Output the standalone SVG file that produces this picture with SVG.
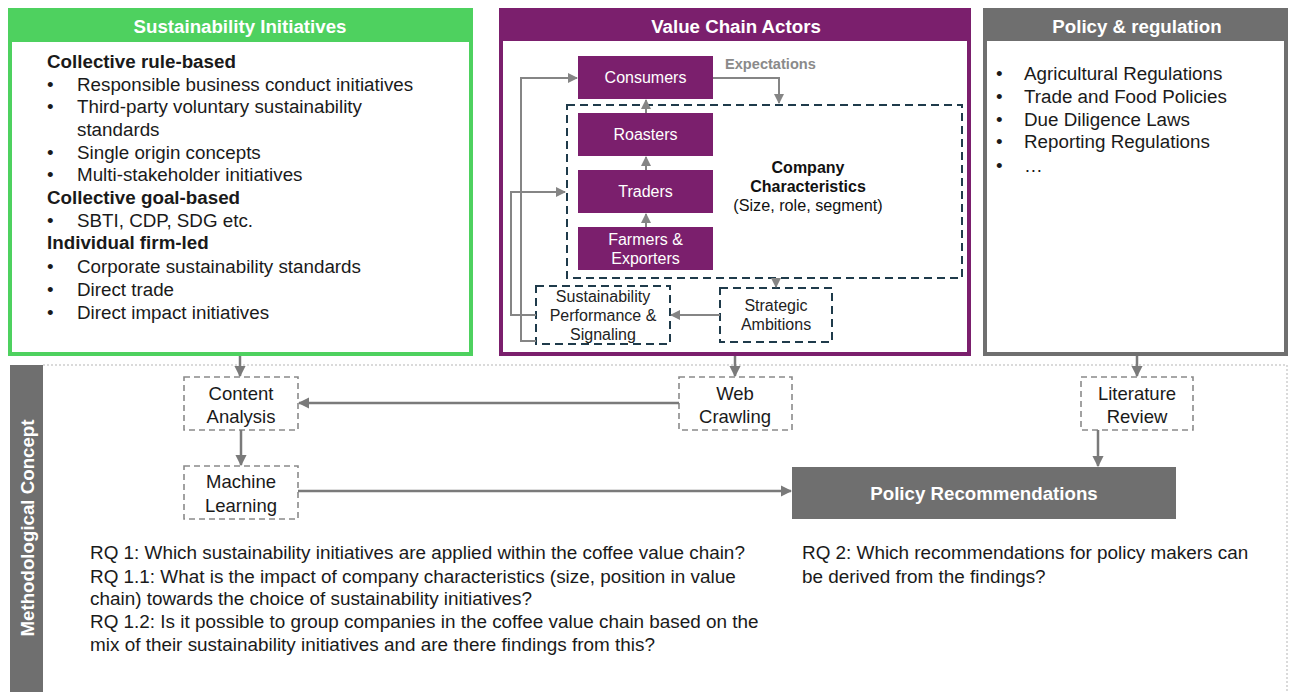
<svg xmlns="http://www.w3.org/2000/svg" width="1289" height="692" viewBox="0 0 1289 692">
<defs>
<style>
text{font-family:"Liberation Sans",Arial,sans-serif;}
.hdr{font-size:18.7px;font-weight:bold;fill:#fff;text-anchor:middle;}
.body{font-size:18.8px;fill:#1a1a1a;}
.bold{font-weight:bold;}
.chain{fill:#7b1f6d;}
.ctext{font-size:16px;fill:#fff;text-anchor:middle;}
.dk{fill:none;stroke:#1f3b4b;stroke-width:2;stroke-dasharray:8 5;}
.gd{fill:#fff;stroke:#8a8a8a;stroke-width:1.6;stroke-dasharray:6 4;}
.mid{text-anchor:middle;}
.con{fill:none;stroke:#7a7a7a;stroke-width:2.5;}
.con2{fill:none;stroke:#858585;stroke-width:2;}
.rq{font-size:18.9px;fill:#1a1a1a;}
.bx{font-size:18.5px;fill:#1a1a1a;text-anchor:middle;}
.sm{font-size:16px;fill:#222;text-anchor:middle;}
</style>
<marker id="ah" viewBox="0 0 10 10" refX="9" refY="5" markerWidth="4.5" markerHeight="4.5" orient="auto" markerUnits="strokeWidth">
<path d="M0,0 L10,5 L0,10 z" fill="#7a7a7a"/>
</marker>
<marker id="ah2" viewBox="0 0 10 10" refX="9" refY="5" markerWidth="5" markerHeight="5" orient="auto" markerUnits="strokeWidth">
<path d="M0,0 L10,5 L0,10 z" fill="#858585"/>
</marker>
</defs>
<rect width="1289" height="692" fill="#fff"/>

<g id="sustainability-initiatives">
<rect x="10" y="10" width="461" height="344" fill="#fff" stroke="#4ed15f" stroke-width="4"/>
<rect x="8" y="8" width="465" height="34" fill="#4ed15f"/>
<text class="hdr" x="240" y="33">Sustainability Initiatives</text>
<text class="body bold" x="47" y="68">Collective rule-based</text>
<text class="body" x="47" y="91">•</text><text class="body" x="77" y="91">Responsible business conduct initiatives</text>
<text class="body" x="47" y="113">•</text><text class="body" x="77" y="113">Third-party voluntary sustainability</text>
<text class="body" x="77" y="136">standards</text>
<text class="body" x="47" y="159">•</text><text class="body" x="77" y="159">Single origin concepts</text>
<text class="body" x="47" y="181">•</text><text class="body" x="77" y="181">Multi-stakeholder initiatives</text>
<text class="body bold" x="47" y="204">Collective goal-based</text>
<text class="body" x="47" y="227">•</text><text class="body" x="77" y="227">SBTI, CDP, SDG etc.</text>
<text class="body bold" x="47" y="249">Individual firm-led</text>
<text class="body" x="47" y="273">•</text><text class="body" x="77" y="273">Corporate sustainability standards</text>
<text class="body" x="47" y="296">•</text><text class="body" x="77" y="296">Direct trade</text>
<text class="body" x="47" y="319">•</text><text class="body" x="77" y="319">Direct impact initiatives</text>
</g>

<g id="value-chain-actors">
<rect x="501" y="10" width="468" height="344" fill="#fff" stroke="#7b1f6d" stroke-width="4"/>
<rect x="499" y="8" width="472" height="33" fill="#7b1f6d"/>
<text class="hdr" x="736" y="33">Value Chain Actors</text>
</g>

<g id="company-characteristics">
<rect class="dk" x="567" y="105" width="395" height="173"/>
<text x="808" y="173" class="mid bold" font-size="16" fill="#111">Company</text>
<text x="808" y="192" class="mid bold" font-size="16" fill="#111">Characteristics</text>
<text x="808" y="211" class="mid" font-size="16.2" fill="#111">(Size, role, segment)</text>
</g>

<g id="consumers"><rect class="chain" x="578" y="56" width="135" height="43"/><text class="ctext" x="645.5" y="83">Consumers</text></g>
<g id="roasters"><rect class="chain" x="578" y="113" width="135" height="43"/><text class="ctext" x="645.5" y="140">Roasters</text></g>
<g id="traders"><rect class="chain" x="578" y="170" width="135" height="43"/><text class="ctext" x="645.5" y="197">Traders</text></g>
<g id="farmers-exporters"><rect class="chain" x="578" y="227" width="135" height="43"/><text class="ctext" x="645.5" y="245">Farmers &amp;</text><text class="ctext" x="645.5" y="264">Exporters</text></g>

<g id="sustainability-performance">
<rect class="dk" x="536" y="286" width="134" height="58"/>
<text x="603" y="302" class="sm">Sustainability</text>
<text x="603" y="321" class="sm">Performance &amp;</text>
<text x="603" y="340" class="sm">Signaling</text>
</g>

<g id="strategic-ambitions">
<rect class="dk" x="720" y="288" width="112" height="54"/>
<text x="776" y="311" class="sm">Strategic</text>
<text x="776" y="330" class="sm">Ambitions</text>
</g>

<g id="policy-regulation">
<rect x="985" y="10" width="301" height="344" fill="#fff" stroke="#6f6f6f" stroke-width="4"/>
<rect x="983" y="8" width="305" height="33" fill="#6f6f6f"/>
<text class="hdr" x="1137" y="33">Policy &amp; regulation</text>
<text class="body" x="996" y="80">•</text><text class="body" x="1024" y="80">Agricultural Regulations</text>
<text class="body" x="996" y="103">•</text><text class="body" x="1024" y="103">Trade and Food Policies</text>
<text class="body" x="996" y="126">•</text><text class="body" x="1024" y="126">Due Diligence Laws</text>
<text class="body" x="996" y="148">•</text><text class="body" x="1024" y="148">Reporting Regulations</text>
<text class="body" x="996" y="172">•</text><text class="body" x="1024" y="172">…</text>
</g>

<g id="methodological-concept">
<path d="M43,365 H1287 V692" fill="none" stroke="#b5b5b5" stroke-width="1" stroke-dasharray="2 2"/>
<rect x="10" y="365" width="33" height="327" fill="#6f6f6f"/>
<text x="0" y="0" transform="translate(33.5,528) rotate(-90)" class="hdr" font-size="19">Methodological Concept</text>
</g>

<g id="content-analysis"><rect class="gd" x="184" y="377" width="114" height="53"/><text x="241" y="400" class="bx">Content</text><text x="241" y="423" class="bx">Analysis</text></g>
<g id="web-crawling"><rect class="gd" x="679" y="377" width="113" height="53"/><text x="735" y="400" class="bx">Web</text><text x="735" y="423" class="bx">Crawling</text></g>
<g id="literature-review"><rect class="gd" x="1081" y="377" width="112" height="53"/><text x="1137" y="400" class="bx">Literature</text><text x="1137" y="423" class="bx">Review</text></g>
<g id="machine-learning"><rect class="gd" x="184" y="466" width="114" height="53"/><text x="241" y="488" class="bx">Machine</text><text x="241" y="512" class="bx">Learning</text></g>
<g id="policy-recommendations"><rect x="792" y="467" width="384" height="52" fill="#6f6f6f"/><text x="984" y="500" class="hdr" font-size="18.9">Policy Recommendations</text></g>

<g id="research-questions">
<text class="rq" x="90" y="559">RQ 1: Which sustainability initiatives are applied within the coffee value chain?</text>
<text class="rq" x="90" y="583">RQ 1.1: What is the impact of company characteristics (size, position in value</text>
<text class="rq" x="90" y="605">chain) towards the choice of sustainability initiatives?</text>
<text class="rq" x="90" y="628">RQ 1.2: Is it possible to group companies in the coffee value chain based on the</text>
<text class="rq" x="90" y="651">mix of their sustainability initiatives and are there findings from this?</text>
<text class="rq" x="802" y="559">RQ 2: Which recommendations for policy makers can</text>
<text class="rq" x="802" y="583">be derived from the findings?</text>
</g>

<g id="connectors">
<text x="725" y="69" font-size="14.6" font-weight="bold" fill="#8a8a8a">Expectations</text>
<path class="con2" d="M713,78 H779 V103" marker-end="url(#ah2)"/>
<path class="con2" d="M646,113 V100" marker-end="url(#ah2)"/>
<path class="con2" d="M646,170 V157" marker-end="url(#ah2)"/>
<path class="con2" d="M646,227 V214" marker-end="url(#ah2)"/>
<path class="con2" d="M776,278 V287" marker-end="url(#ah2)"/>
<path class="con2" d="M720,315 H671" marker-end="url(#ah2)"/>
<path class="con2" d="M536,315 H511 V192 H565" marker-end="url(#ah2)"/>
<path class="con2" d="M536,341 H521 V78 H577" marker-end="url(#ah2)"/>
<path class="con" d="M240,356 V376" marker-end="url(#ah)"/>
<path class="con" d="M735,356 V376" marker-end="url(#ah)"/>
<path class="con" d="M1137,356 V376" marker-end="url(#ah)"/>
<path class="con" d="M679,403 H299" marker-end="url(#ah)"/>
<path class="con" d="M241,430 V465" marker-end="url(#ah)"/>
<path class="con" d="M298,491 H791" marker-end="url(#ah)"/>
<path class="con" d="M1098,430 V466" marker-end="url(#ah)"/>
</g>
</svg>
